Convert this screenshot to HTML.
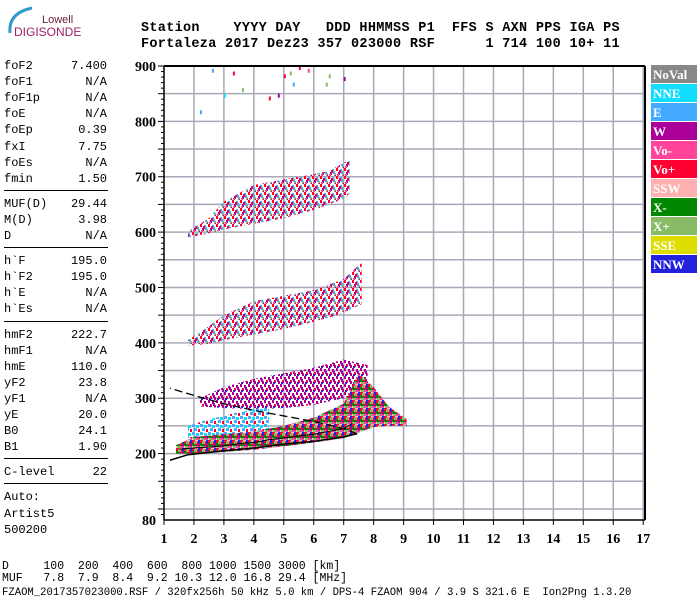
<!DOCTYPE html>
<html><head><meta charset="utf-8"><style>
body{margin:0;background:#fff;width:700px;height:600px;overflow:hidden;position:relative;font-family:"Liberation Mono",monospace}
.t{position:absolute;white-space:pre;font-size:12px;color:#000}
.h{position:absolute;white-space:pre;font-size:13.5px;font-weight:bold;font-family:"Liberation Mono",monospace;letter-spacing:0.3px}
.hr{position:absolute;left:4px;width:104px;height:1px;background:#000}
.lv{position:absolute;left:4px;width:103px;font-size:12px;display:flex;justify-content:space-between}
</style></head><body>
<div style="position:absolute;left:2px;top:3px;width:80px;height:40px">
<svg width="80" height="40"><path d="M8,30 Q6,10 30,5" stroke="#3399cc" stroke-width="3" fill="none"/>
<text x="40" y="20" font-family="Liberation Sans" font-size="11" fill="#6a2040">Lowell</text>
<text x="12" y="33" font-family="Liberation Sans" font-size="12" fill="#a02060">DIGISONDE</text></svg></div>
<div class="h" style="left:141px;top:21px">Station    YYYY DAY   DDD HHMMSS P1  FFS S AXN PPS IGA PS</div>
<div class="h" style="left:141px;top:37px">Fortaleza 2017 Dez23 357 023000 RSF      1 714 100 10+ 11</div>
<div id="left"></div>
<svg id="chart" width="700" height="600" style="position:absolute;left:0;top:0"></svg>
<div class="t" style="left:2px;top:560px;font-size:11.5px">D     100  200  400  600  800 1000 1500 3000 [km]</div>
<div class="t" style="left:2px;top:572px;font-size:11.5px">MUF   7.8  7.9  8.4  9.2 10.3 12.0 16.8 29.4 [MHz]</div>
<div class="t" style="left:2px;top:587px;font-size:10.6px">FZAOM_2017357023000.RSF / 320fx256h 50 kHz 5.0 km / DPS-4 FZAOM 904 / 3.9 S 321.6 E  Ion2Png 1.3.20</div>
<script>
const params=[["foF2","7.400"],["foF1","N/A"],["foF1p","N/A"],["foE","N/A"],["foEp","0.39"],["fxI","7.75"],["foEs","N/A"],["fmin","1.50"],null,["MUF(D)","29.44"],["M(D)","3.98"],["D","N/A"],null,["h`F","195.0"],["h`F2","195.0"],["h`E","N/A"],["h`Es","N/A"],null,["hmF2","222.7"],["hmF1","N/A"],["hmE","110.0"],["yF2","23.8"],["yF1","N/A"],["yE","20.0"],["B0","24.1"],["B1","1.90"],null,["C-level","22"],null,["Auto:",""],["Artist5",""],["500200",""]];
const L=document.getElementById('left');
let y=59;
params.forEach(p=>{
 if(!p){const d=document.createElement('div');d.className='hr';d.style.top=(y+2)+'px';
 
 
 L.appendChild(d);y+=9;return;}
 const d=document.createElement('div');d.className='lv';d.style.top=y+'px';
 d.innerHTML='<span>'+p[0]+'</span><span>'+p[1]+'</span>';
 
 
 L.appendChild(d);y+=16.1;});

const yTicks=[80,200,300,400,500,600,700,800,900];
const xTicks=[1,2,3,4,5,6,7,8,9,10,11,12,13,14,15,16,17];
const legendNames=["NoVal","NNE","E","W","Vo-","Vo+","SSW","X-","X+","SSE","NNW"];
const legendColors=["#888888","#11ddff","#44aaff","#aa0099","#ff4499","#ff0033","#ffb0b0","#008800","#88bb66","#dddd00","#2222dd"];
const mainF=[1.4,2,3,4,5,6,7,7.5,8,8.5,9.1];
const mainLo=[200,200,203,207,213,220,228,238,248,250,250];
const mainHi=[215,230,235,240,250,265,290,345,320,285,262];
const bF=[1.8,2.5,3.5,4.5];
const bLo=[228,230,235,245];
const bHi=[250,262,275,285];
const wF=[2.2,3,4,5,6,7,7.8];
const wLo=[285,282,280,282,288,300,320];
const wHi=[300,320,335,345,355,370,360];
const h2F=[1.8,2.5,3,4,5,6,6.5,7,7.6];
const h2Lo=[395,398,405,415,425,438,445,455,470];
const h2Hi=[405,430,450,475,485,495,505,515,545];
const h3F=[1.8,2.5,3,4,5,6,6.5,7,7.2];
const h3Lo=[590,598,605,615,625,640,650,660,670];
const h3Hi=[602,625,655,685,695,705,710,725,730];
const topF=[2.2,2.6,3.0,3.3,3.6,4.5,4.8,5.0,5.2,5.3,5.5,5.8,6.4,6.5,7.0];
const topH=[820,895,850,890,860,845,850,885,890,870,900,895,870,885,880];
const topC=[2,2,1,5,8,5,3,5,8,2,5,4,8,8,3];
const lowF=[1.2,1.8,3,4,5,6,7,7.45];
const lowH=[188,198,205,210,217,222,230,236];
const upF=[7.45,7.0,6.0,5.0,4.0,3.0,2.0,1.2];
const upH=[236,245,258,268,278,290,305,318];
const virtF=[1.5,2,2.5,3,3.5,4,4.5,5,5.5,6,6.5,7,7.3];
const virtH=[208,210,212,214,218,220,225,228,232,235,240,245,255];

const X=f=>164+(f-1)*29.95;
const Y=h=>66+(900-h)*0.5537;
const S=document.getElementById('chart');const NS='http://www.w3.org/2000/svg';
function el(t,a,name){const e=document.createElementNS(NS,t);for(const k in a)e.setAttribute(k,a[k]);
 
 
 S.appendChild(e);return e;}
const defs=el('defs',{},'chart-defs');
function pat(id,cols,n,w){const p=document.createElementNS(NS,'pattern');p.setAttribute('id',id);p.setAttribute('width',8);p.setAttribute('height',8);p.setAttribute('patternUnits','userSpaceOnUse');
 const cells=[[0,0],[4,1],[2,4],[6,5],[1,6],[5,3],[3,2],[7,7],[0,3],[6,0],[4,6],[2,1]];
 cells.slice(0,n).forEach((c,i)=>{const r=document.createElementNS(NS,'rect');r.setAttribute('x',c[0]);r.setAttribute('y',c[1]);r.setAttribute('width',w);r.setAttribute('height',3);r.setAttribute('fill',cols[i%cols.length]);p.appendChild(r);});
 defs.appendChild(p);}
pat('pm',["#ff0033","#ff4499","#008800","#ff0033","#88bb66","#aa0099","#ff0033","#44aaff","#008800","#2222dd","#ff4499","#88bb66"],12,3);
pat('pw',["#aa0099","#aa0099","#ff0033","#aa0099","#2222dd","#aa0099"],6,2);
pat('pb',["#44aaff","#11ddff","#44aaff","#ff0033"],4,3);
pat('ph',["#ff0033","#44aaff","#aa0099","#88bb66","#ff4499","#44aaff","#ff0033","#aa0099"],8,2);
for(let h=100;h<=900;h+=50){el('line',{x1:164,x2:645,y1:Y(h),y2:Y(h),stroke:'#a8a8b8','stroke-width':1.5},'grid-h');}
xTicks.forEach(f=>{if(f>1)el('line',{x1:X(f),x2:X(f),y1:66,y2:520,stroke:'#a8a8b8','stroke-width':1.5},'grid-v');});
function band(F,Lo,Hi,fill,name){let d='M'+F.map((f,i)=>X(f)+','+Y(Hi[i])).join(' L');
 for(let i=F.length-1;i>=0;i--)d+=' L'+X(F[i])+','+Y(Lo[i]);el('path',{d:d+'Z',fill:fill},name);}
band(h3F,h3Lo,h3Hi,'url(#ph)','band-3hop');
band(h2F,h2Lo,h2Hi,'url(#ph)','band-2hop');
band(wF,wLo,wHi,'url(#pw)','band-w');
band(bF,bLo,bHi,'url(#pb)','band-blue');
band(mainF,mainLo,mainHi,'rgba(255,0,51,0.22)','band-main-base');
band(mainF,mainLo,mainHi,'url(#pm)','band-main');
topF.forEach((f,i)=>el('rect',{x:X(f),y:Y(topH[i]),width:2,height:4,fill:legendColors[topC[i]]},'echo-point'));
el('polyline',{points:virtF.map((f,i)=>X(f)+','+Y(virtH[i])).join(' '),fill:'none',stroke:'#000','stroke-width':1},'virtual-height-trace');
el('polyline',{points:lowF.map((f,i)=>X(f)+','+Y(lowH[i])).join(' '),fill:'none',stroke:'#000','stroke-width':1.5},'profile-lower');
el('polyline',{points:upF.map((f,i)=>X(f)+','+Y(upH[i])).join(' '),fill:'none',stroke:'#000','stroke-width':1.3,'stroke-dasharray':'8,4'},'profile-upper-dashed');
el('line',{x1:164,x2:645,y1:66,y2:66,stroke:'#000','stroke-width':2},'frame-top');
el('line',{x1:645,x2:645,y1:66,y2:520,stroke:'#000','stroke-width':2},'frame-right');
el('line',{x1:164,x2:164,y1:66,y2:520,stroke:'#000','stroke-width':1.5},'y-axis');
el('line',{x1:164,x2:645,y1:520,y2:520,stroke:'#000','stroke-width':1.5},'x-axis');
for(let h=90;h<=900;h+=10){el('line',{x1:h%50==0?158:161,x2:164,y1:Y(h),y2:Y(h),stroke:'#000'},'y-minor-tick');}
yTicks.forEach(h=>{const t=el('text',{x:156,y:Y(h)+5,'text-anchor':'end','font-family':'Liberation Serif','font-weight':'bold','font-size':14},'y-tick-label');t.textContent=h;});
xTicks.forEach(f=>{el('line',{x1:X(f),x2:X(f),y1:520,y2:525,stroke:'#000'},'x-tick');
 const t=el('text',{x:X(f),y:543,'text-anchor':'middle','font-family':'Liberation Serif','font-weight':'bold','font-size':14},'x-tick-label');t.textContent=f;});
legendNames.forEach((n,i)=>{el('rect',{x:651,y:65+i*19,width:46,height:18,fill:legendColors[i]},'legend-'+n.toLowerCase());
 const t=el('text',{x:653,y:79+i*19,'font-family':'Liberation Serif','font-weight':'bold','font-size':13,fill:'#fff'},'legend-label');t.textContent=n;});
</script>
</body></html>
